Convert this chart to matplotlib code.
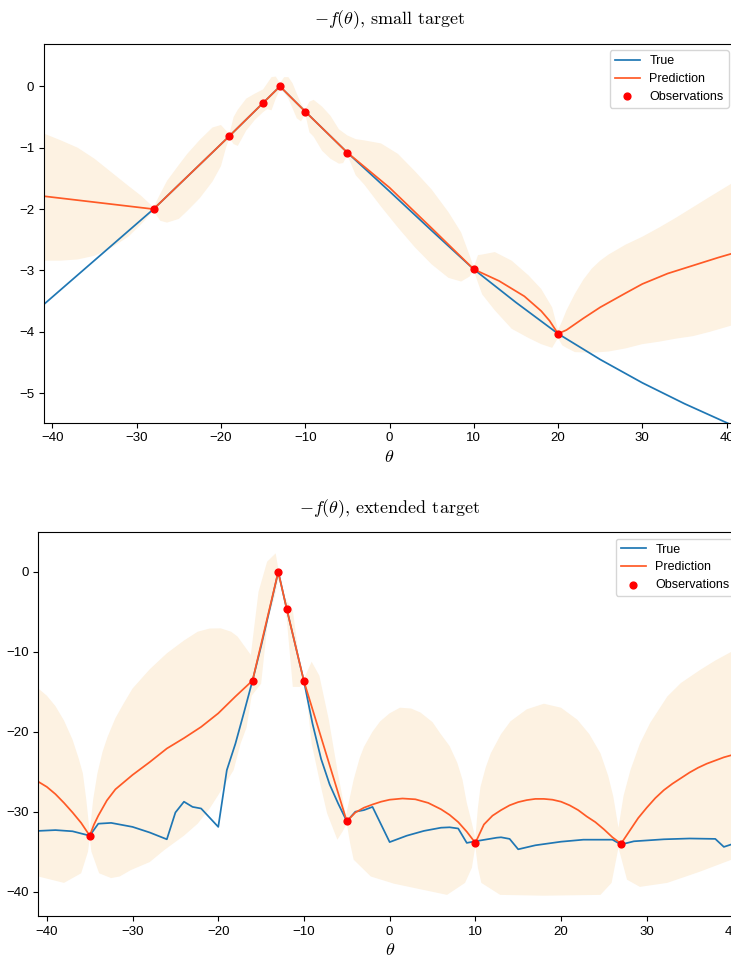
#IMPORT LIBRARIES
import numpy as np
import matplotlib
matplotlib.use("Agg")
import matplotlib.pyplot as plt

plt.rcParams['mathtext.fontset'] = 'cm'
plt.rcParams['font.family'] = ['Liberation Sans', 'DejaVu Sans']

#SMALL TARGET DATA
obs_theta_s = [-28, -19, -15, -13, -10, -5, 10, 20]
obs_val_s = [-2.0, -0.81, -0.27, 0.0, -0.41, -1.08, -2.98, -4.03]

true_theta_s = [-41, -28, -19, -15, -13, -10, -5, 0, 5, 10, 15, 20, 25, 30, 35, 40, 41]
true_val_s = [-3.55, -2.0, -0.81, -0.27, 0.0, -0.41, -1.08, -1.71, -2.35, -2.98, -3.52, -4.03,
              -4.45, -4.83, -5.17, -5.48, -5.54]

pred_theta_s = [-41, -28, -19, -15, -13, -10, -5, 0, 5, 10, 13, 16, 18, 19, 20, 21, 23, 25,
                28, 30, 33, 36, 39, 41]
pred_val_s = [-1.79, -2.0, -0.81, -0.27, 0.0, -0.41, -1.08, -1.65, -2.31, -2.98, -3.17, -3.42,
              -3.66, -3.82, -4.03, -3.97, -3.78, -3.60, -3.37, -3.22, -3.05, -2.92, -2.79, -2.71]

up_theta_s = [-41, -39, -37, -35, -33, -31, -29.5, -28, -27.2, -26.4, -25, -24, -22.5, -21, -20,
              -19.4, -19, -18.5, -18, -17, -16, -15, -14, -13.5, -13, -12.5, -12, -11.5, -11,
              -10.5, -10, -9.5, -9, -8, -7, -6, -5, -4, -3, -1, 1, 3, 5, 7, 8.5, 9.5, 10, 10.5,
              11, 12.5, 14.5, 16.5, 18, 19.3, 20, 20.5, 21, 22, 23, 24, 25, 26, 28, 30, 32, 34,
              36, 38, 41]
up_val_s = [-0.77, -0.88, -1.0, -1.18, -1.40, -1.62, -1.78, -1.97, -1.75, -1.54, -1.28, -1.1,
            -0.87, -0.67, -0.63, -0.72, -0.78, -0.50, -0.38, -0.20, -0.12, -0.05, 0.15, 0.16,
            0.05, 0.15, 0.15, 0.05, -0.12, -0.28, -0.38, -0.25, -0.22, -0.33, -0.48, -0.70,
            -0.80, -0.86, -0.88, -0.93, -1.10, -1.38, -1.68, -2.05, -2.38, -2.75, -2.95, -2.75,
            -2.74, -2.70, -2.84, -3.08, -3.30, -3.60, -3.97, -3.82, -3.65, -3.38, -3.15, -2.97,
            -2.84, -2.74, -2.58, -2.45, -2.30, -2.14, -1.97, -1.80, -1.55]

lo_theta_s = [-41, -39, -37, -35, -33, -31, -29.5, -28, -27.2, -26.4, -25, -24, -22.5, -21, -20,
              -19.4, -19, -18.5, -18, -17, -16, -15, -14.5, -14, -13.5, -13, -12.5, -12, -11,
              -10.5, -10, -9.5, -9, -8, -7, -6, -5.5, -5, -4, -3, -1, 1, 3, 5, 7, 8.5, 9.5, 10,
              10.5, 11, 12.5, 14.5, 16.5, 18, 19.3, 20, 20.5, 21, 22, 24, 26, 28, 30, 32, 34, 36,
              38, 41]
lo_val_s = [-2.84, -2.84, -2.82, -2.76, -2.63, -2.45, -2.25, -2.03, -2.19, -2.22, -2.16, -2.03,
            -1.82, -1.55, -1.30, -1.0, -0.84, -0.94, -0.97, -0.72, -0.55, -0.42, -0.37, -0.39,
            -0.20, -0.05, -0.10, -0.20, -0.52, -0.57, -0.45, -0.75, -0.82, -1.05, -1.18, -1.26,
            -1.25, -1.12, -1.45, -1.60, -1.96, -2.30, -2.62, -2.90, -3.12, -3.18, -3.10, -3.0,
            -3.20, -3.39, -3.65, -3.95, -4.10, -4.20, -4.26, -4.10, -4.22, -4.26, -4.33, -4.34,
            -4.32, -4.27, -4.20, -4.16, -4.11, -4.07, -4.0, -3.88]

#EXTENDED TARGET DATA
obs_theta_e = [-35, -16, -13, -12, -10, -5, 10, 27]
obs_val_e = [-33.0, -13.6, 0.0, -4.7, -13.7, -31.2, -33.9, -34.0]

true_theta_e = [-41, -39, -37, -35, -34, -32.5, -30, -28, -26, -25, -24, -23, -22, -20, -19, -18,
                -17, -16, -15, -14, -13, -12, -11, -10, -9, -8, -7, -6, -5, -4, -3, -2, 0, 2, 4,
                6, 7, 8, 9, 10, 12.5, 13, 14, 15, 17, 20, 22.6, 24, 26, 27, 28.5, 32, 35, 38, 39,
                41]
true_val_e = [-32.4, -32.3, -32.45, -33.0, -31.5, -31.4, -31.9, -32.6, -33.45, -30.1, -28.75,
              -29.4, -29.6, -31.9, -24.8, -21.5, -17.6, -13.6, -9.3, -4.7, 0.0, -4.7, -9.2,
              -13.7, -19.0, -23.4, -26.6, -29.0, -31.2, -30.0, -29.8, -29.4, -33.8, -33.0,
              -32.4, -32.0, -31.95, -32.1, -33.9, -33.7, -33.25, -33.2, -33.4, -34.7, -34.2,
              -33.75, -33.5, -33.5, -33.5, -34.1, -33.7, -33.45, -33.35, -33.4, -34.4, -33.7]

pred_theta_e = [-41, -40, -39, -38, -37, -36, -35, -34.5, -34, -33, -32, -30, -28, -26, -24, -22,
                -20, -18, -16, -13, -12, -10, -5, -4, -3, -2, -1, 0, 1.5, 3, 4.5, 6, 7, 8, 9, 10,
                11, 12, 13, 14, 15, 16, 17, 18, 19, 20, 21, 22, 23, 24, 25, 26, 27, 28, 29, 30,
                31, 32, 33, 34, 35, 36, 37, 38, 39, 40, 41]
pred_val_e = [-26.25, -26.9, -27.8, -28.9, -30.1, -31.4, -33.0, -31.6, -30.5, -28.6, -27.2,
              -25.4, -23.8, -22.1, -20.8, -19.4, -17.7, -15.6, -13.6, 0.0, -4.7, -13.7, -31.2,
              -30.1, -29.5, -29.1, -28.75, -28.5, -28.35, -28.45, -28.9, -29.7, -30.4, -31.3,
              -32.5, -33.9, -31.6, -30.5, -29.8, -29.2, -28.8, -28.55, -28.4, -28.4, -28.5,
              -28.75, -29.2, -29.8, -30.6, -31.3, -32.2, -33.2, -34.0, -32.4, -30.8, -29.5,
              -28.3, -27.3, -26.5, -25.8, -25.1, -24.5, -24.0, -23.6, -23.2, -22.9, -22.6]

up_theta_e = [-41, -40, -39, -38, -37, -36.3, -35.8, -35.4, -35, -34.6, -34.1, -33.5, -32.9, -32,
              -31, -30, -28, -26, -24, -22.4, -21, -19.7, -18.5, -17.75, -16.2, -15.3, -14.3,
              -13.3, -12.9, -12.3, -11.3, -10.3, -10, -9.1, -8.2, -7.1, -6.1, -5.1, -4.6, -4.2,
              -3.5, -3.0, -2, -1.1, 0, 1.2, 2.5, 3.6, 5, 5.9, 7, 7.9, 8.5, 9.0, 9.5, 10, 10.3,
              10.6, 11.2, 11.8, 13, 14.1, 16, 18, 20, 21.9, 23.3, 24.6, 25.5, 26.1, 26.7, 27.3,
              28.1, 29.2, 30.4, 32.4, 34, 36.2, 38, 39.9, 41]
up_val_e = [-14.6, -15.5, -16.8, -18.6, -21.0, -23.3, -25.2, -28.5, -32.6, -28.5, -25.2, -22.5,
            -20.6, -18.3, -16.4, -14.6, -12.2, -10.2, -8.6, -7.5, -7.1, -7.08, -7.5, -8.1,
            -10.4, -2.5, 1.25, 2.3, -0.2, -3.1, -4.8, -13.1, -13.4, -11.25, -13.0, -18.5,
            -24.8, -30.5, -28.0, -26.0, -23.3, -21.9, -20.0, -18.7, -17.7, -17.0, -17.1, -17.6,
            -18.8, -20.2, -21.8, -23.9, -26.0, -28.9, -31.0, -33.3, -29.5, -26.9, -24.5, -22.7,
            -20.3, -18.7, -17.2, -16.5, -17.0, -18.5, -20.3, -22.7, -25.5, -28.1, -32.0, -28.0,
            -24.8, -21.5, -18.9, -15.6, -13.9, -12.3, -11.1, -10.0, -9.5]

lo_theta_e = [-41, -38, -36, -35.2, -35, -34.8, -33.9, -32.5, -31.5, -30.2, -28, -26.3, -24,
              -22.4, -21, -20.1, -18.2, -17.4, -16.7, -16.1, -15.0, -14.2, -13.4, -13, -12.6, -12,
              -11.3, -10.5, -10, -9.6, -9.1, -8.1, -7.3, -6.1, -5.5, -5, -4.6, -4.2, -2.2, 0.5,
              3.6, 6.7, 8.8, 9.6, 10, 10.3, 10.7, 12.9, 18, 24.6, 25.9, 26.7, 27.7, 29.2, 32.4,
              36.2, 39.9, 41]
lo_val_e = [-38.1, -38.9, -37.7, -35.0, -33.3, -35.0, -37.7, -38.3, -38.1, -37.3, -36.3, -34.8,
            -33.0, -31.5, -29.6, -28.1, -24.8, -21.5, -19.5, -15.5, -14.0, -6.0, -3.1, -1.0,
            -2.0, -6.0, -14.4, -14.4, -13.9, -16.5, -21.5, -26.5, -30.2, -33.5, -32.5, -31.5,
            -34.0, -36.0, -38.1, -39.0, -39.7, -40.4, -38.9, -37.0, -34.3, -37.0, -38.9, -40.4,
            -40.5, -40.4, -38.9, -34.5, -38.5, -39.4, -38.9, -37.5, -36.0, -35.6]

#COLOURS
band_col = "#fdf2e2"
true_col = "#1f77b4"
pred_col = "#ff5a26"

W, H = 731, 956
fig = plt.figure(figsize=(W/100, H/100), dpi=100)

#PIXEL BOXES FOR THE TWO PANELS (left, top, right, bottom)
boxes = [(44, 44, 735, 422.7), (38.3, 532.3, 741, 916)]
panels = [
    (obs_theta_s, obs_val_s, true_theta_s, true_val_s, pred_theta_s, pred_val_s,
     up_theta_s, up_val_s, lo_theta_s, lo_val_s, "small target", (-5.48, 0.69), [0, -1, -2, -3, -4, -5]),
    (obs_theta_e, obs_val_e, true_theta_e, true_val_e, pred_theta_e, pred_val_e,
     up_theta_e, up_val_e, lo_theta_e, lo_val_e, "extended target", (-43.04, 4.93), [0, -10, -20, -30, -40]),
]

for (l, t, r, b), p in zip(boxes, panels):
    ot, ov, tt, tv, pt, pv, ut, uv, lt, lv, name, ylim, yticks = p
    ax = fig.add_axes([l/W, 1 - b/H, (r - l)/W, (b - t)/H])

    #CONFIDENCE BAND AS ONE POLYGON
    ax.fill(np.concatenate([ut, lt[::-1]]), np.concatenate([uv, lv[::-1]]),
            color=band_col, lw=0)
    ax.plot(tt, tv, color=true_col, lw=1.25, label="True")
    ax.plot(pt, pv, color=pred_col, lw=1.25, label="Prediction")
    ax.scatter(ot, ov, color="red", s=24, zorder=5, label="Observations")

    ax.set_xlim(-41, 41)
    ax.set_ylim(*ylim)
    ax.set_xticks([-40, -30, -20, -10, 0, 10, 20, 30, 40])
    ax.set_yticks(yticks)
    ax.tick_params(labelsize=9.5)
    ax.set_xlabel(r"$\theta$", fontsize=13, labelpad=3)
    ax.set_title(r"$-f(\theta)$, " + name, fontsize=13, family="cmr10", pad=14)
    ax.legend(loc="upper right", fontsize=9, labelspacing=0.45)

fig.savefig("out.png", dpi=100)
